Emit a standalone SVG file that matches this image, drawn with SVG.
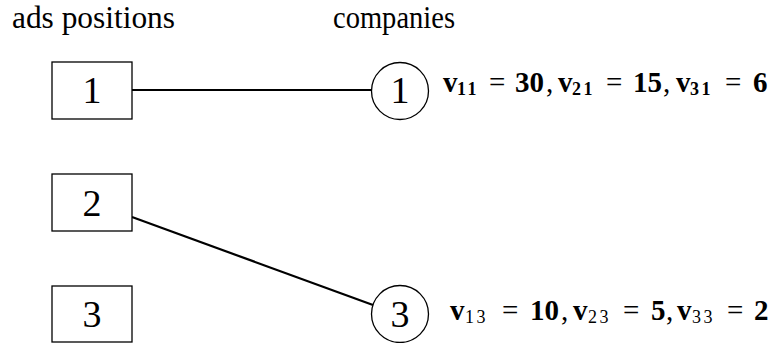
<svg xmlns="http://www.w3.org/2000/svg" width="781" height="343" viewBox="0 0 781 343">
<style>
.hdr{font-family:"Liberation Serif",serif;font-size:32px;fill:#000}
.num{font-family:"Liberation Serif",serif;font-size:38px;fill:#000;text-anchor:middle}
.box{fill:#fff;stroke:#000;stroke-width:1.3}
.edge{stroke:#000;stroke-width:2.2;fill:none}
.lbl{font-family:"Liberation Serif",serif;font-size:29px;fill:#000}
.b{font-weight:bold}
.sub{font-size:18px;letter-spacing:2.5px}
</style>
<rect width="781" height="343" fill="#fff"/>
<text class="hdr" x="12" y="28" textLength="163" lengthAdjust="spacingAndGlyphs">ads positions</text>
<text class="hdr" x="333" y="28" textLength="122" lengthAdjust="spacingAndGlyphs">companies</text>
<g id="connectors">
<line class="edge" x1="132" y1="90" x2="372" y2="90"/>
<line class="edge" x1="132" y1="217" x2="373" y2="305"/>
</g>
<g id="pos1"><rect class="box" x="52" y="62" width="80" height="57"/><text class="num" x="92" y="103">1</text></g>
<g id="pos2"><rect class="box" x="52" y="174" width="80" height="57"/><text class="num" x="92" y="216">2</text></g>
<g id="pos3"><rect class="box" x="52" y="286" width="80" height="56"/><text class="num" x="92" y="327">3</text></g>
<g id="comp1"><circle class="box" cx="400" cy="91" r="28.5"/><text class="num" x="400" y="103">1</text></g>
<g id="comp3"><circle class="box" cx="400" cy="314" r="28.5"/><text class="num" x="400" y="327">3</text></g>
<g id="label1"><text class="lbl" y="92"><tspan class="b" x="443">v</tspan><tspan class="b sub" x="457" y="95">11</tspan><tspan x="489" y="92">=</tspan><tspan class="b" x="515">30</tspan><tspan x="546">,</tspan><tspan class="b" x="558">v</tspan><tspan class="b sub" x="572" y="95">21</tspan><tspan x="606" y="92">=</tspan><tspan class="b" x="633">15</tspan><tspan x="663">,</tspan><tspan class="b" x="676">v</tspan><tspan class="b sub" x="690" y="95">31</tspan><tspan x="725" y="92">=</tspan><tspan class="b" x="753">6</tspan></text></g>
<g id="label3"><text class="lbl" y="320"><tspan class="b" x="450">v</tspan><tspan class="sub" x="465" y="323">13</tspan><tspan x="502" y="320">=</tspan><tspan class="b" x="530">10</tspan><tspan x="561">,</tspan><tspan class="b" x="573">v</tspan><tspan class="sub" x="588" y="323">23</tspan><tspan x="623" y="320">=</tspan><tspan class="b" x="651">5</tspan><tspan x="666">,</tspan><tspan class="b" x="677">v</tspan><tspan class="sub" x="692" y="323">33</tspan><tspan x="727" y="320">=</tspan><tspan class="b" x="754">2</tspan></text></g>
</svg>
